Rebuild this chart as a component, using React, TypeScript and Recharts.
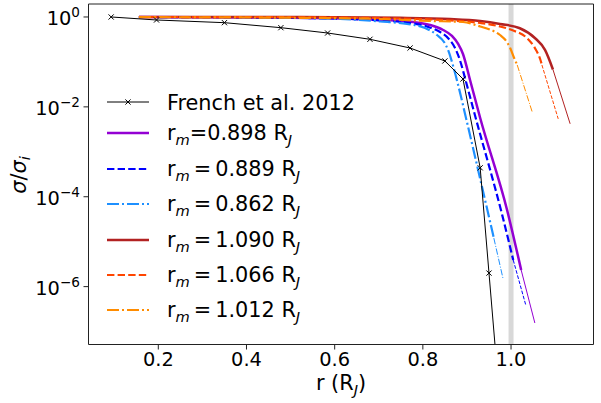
import React from 'react';
import { LineChart, Line, XAxis, YAxis, ReferenceLine, CartesianGrid } from 'recharts';

const W = 601;
const H = 403;
const FONT = 'DejaVu Sans';

// ---- data (r in R_J, sigma / sigma_i) ----
const frenchR = [0.093, 0.196, 0.35, 0.478, 0.584, 0.68, 0.771, 0.85, 0.891, 0.93, 0.95, 0.97];
const frenchS = [1.0, 0.857, 0.747, 0.578, 0.44, 0.319, 0.204, 0.105, 0.0418, 4.4e-4, 2.0e-6, 9e-9];

const m898R = [0.156, 0.408, 0.612, 0.703, 0.778, 0.816, 0.846, 0.866, 0.88, 0.891, 0.907, 0.93, 0.991, 1.023];
const m898S = [1.0, 0.975, 0.926, 0.857, 0.774, 0.664, 0.514, 0.378, 0.251, 0.15, 0.0396, 5.66e-3, 5.08e-5, 2.34e-6];
const m898TailR = [1.023, 1.054];
const m898TailS = [2.34e-6, 1.55e-7];

const m889R = [0.156, 0.408, 0.612, 0.703, 0.771, 0.809, 0.839, 0.859, 0.873, 0.884, 0.898, 0.918, 0.98, 1.005];
const m889S = [1.0, 0.975, 0.917, 0.836, 0.735, 0.615, 0.464, 0.324, 0.204, 0.11, 0.0356, 6.6e-3, 3.9e-5, 3.9e-6];
const m889TailR = [1.005, 1.034];
const m889TailS = [3.9e-6, 3.7e-7];

const m862R = [0.156, 0.408, 0.612, 0.703, 0.764, 0.805, 0.832, 0.848, 0.859, 0.868, 0.88, 0.9, 0.941, 0.961];
const m862S = [1.0, 0.975, 0.903, 0.794, 0.699, 0.569, 0.397, 0.278, 0.166, 0.0855, 0.0307, 4.6e-3, 8.5e-5, 1.2e-5];
const m862TailR = [0.961, 0.982];
const m862TailS = [1.2e-5, 1.48e-6];

const m1090R = [0.156, 0.521, 0.748, 0.862, 0.93, 0.975, 1.02, 1.054, 1.077, 1.095];
const m1090S = [1.0, 0.998, 0.96, 0.903, 0.815, 0.699, 0.561, 0.341, 0.185, 0.068];
const m1090TailR = [1.095, 1.134];
const m1090TailS = [0.068, 4.2e-3];

const m1066R = [0.156, 0.521, 0.748, 0.862, 0.93, 0.975, 1.005, 1.036, 1.054, 1.066, 1.07];
const m1066S = [1.0, 0.985, 0.926, 0.836, 0.735, 0.615, 0.5, 0.341, 0.204, 0.116, 0.0855];
const m1066TailR = [1.07, 1.107];
const m1066TailS = [0.0855, 5.4e-3];

const m1012R = [0.156, 0.521, 0.703, 0.816, 0.891, 0.93, 0.952, 0.975, 0.989, 0.998, 1.007, 1.014];
const m1012S = [0.99, 0.96, 0.903, 0.815, 0.774, 0.615, 0.527, 0.397, 0.292, 0.204, 0.122, 0.0855];
const m1012TailR = [1.014, 1.048];
const m1012TailS = [0.0855, 7.7e-3];

const xTicks = [0.2, 0.4, 0.6, 0.8, 1.0];
const yTicks = [1e-6, 1e-4, 1e-2, 1];
const xDomain = [0.0417, 1.187];
const yDomain = [5.15e-8, 1.945];
const bandAt = [1.0];

const zip = (xs: number[], ys: number[]) => xs.map((x, i) => ({ x, y: ys[i] }));

type Style = { color: string; dash?: string; thinDash?: string; width: number };
const SOLID = undefined;
const models: { id: string; main: { x: number; y: number }[]; tail: { x: number; y: number }[]; style: Style; label: string; spaced: boolean }[] = [
  { id: 'm898', main: zip(m898R, m898S), tail: zip(m898TailR, m898TailS), style: { color: '#9400D3', dash: SOLID, thinDash: SOLID, width: 2.5 }, label: '0.898', spaced: false },
  { id: 'm889', main: zip(m889R, m889S), tail: zip(m889TailR, m889TailS), style: { color: '#0000FF', dash: '7.4 3.2', thinDash: '3.7 1.6', width: 2.2 }, label: '0.889', spaced: true },
  { id: 'm862', main: zip(m862R, m862S), tail: zip(m862TailR, m862TailS), style: { color: '#1E90FF', dash: '12 3 2 3', thinDash: '6.4 1.6 1 1.6', width: 2.2 }, label: '0.862', spaced: true },
  { id: 'm1090', main: zip(m1090R, m1090S), tail: zip(m1090TailR, m1090TailS), style: { color: '#B22222', dash: SOLID, thinDash: SOLID, width: 2.5 }, label: '1.090', spaced: true },
  { id: 'm1066', main: zip(m1066R, m1066S), tail: zip(m1066TailR, m1066TailS), style: { color: '#FF4500', dash: '7.4 3.2', thinDash: '3.7 1.6', width: 2.2 }, label: '1.066', spaced: true },
  { id: 'm1012', main: zip(m1012R, m1012S), tail: zip(m1012TailR, m1012TailS), style: { color: '#FF8C00', dash: '12 3 2 3', thinDash: '6.4 1.6 1 1.6', width: 2.2 }, label: '1.012', spaced: true },
];
const french = zip(frenchR, frenchS);

const XMark = (props: any) => {
  const { cx, cy } = props;
  if (cx == null || cy == null || isNaN(cx) || isNaN(cy)) return null;
  const s = 2.6;
  return (
    <g key={`xm-${cx}-${cy}`}>
      <line x1={cx - s} y1={cy - s} x2={cx + s} y2={cy + s} stroke="#000" strokeWidth={1} />
      <line x1={cx - s} y1={cy + s} x2={cx + s} y2={cy - s} stroke="#000" strokeWidth={1} />
    </g>
  );
};

const XTick = (props: any) => {
  const { x, y, payload } = props;
  return (
    <text x={x} y={y + 16.5} textAnchor="middle" fontSize={19.4} fontFamily={FONT} fill="#000">
      {Number(payload.value).toFixed(1)}
    </text>
  );
};

const YTick = (props: any) => {
  const { x, y, payload } = props;
  const e = Math.round(Math.log10(payload.value));
  const sup = e === 0 ? '0' : '\u2212' + Math.abs(e);
  return (
    <text x={x} y={y + 8} textAnchor="end" fontSize={19.4} fontFamily={FONT} fill="#000">
      10
      <tspan dy={-8} fontSize={13.6}>{sup}</tspan>
    </text>
  );
};

const legendRows = [102, 133, 169, 204, 240, 275, 310];

const Overlay = () => {
  const hx1 = 107;
  const hx2 = 149;
  const tx = 167;
  return (
    <svg width={W} height={H} style={{ position: 'absolute', left: 0, top: 0, pointerEvents: 'none' }}>
      {/* axis labels */}
      <text x={341} y={389.5} textAnchor="middle" fontSize={20.8} fontFamily={FONT} fill="#000">
        r (R<tspan fontSize={14.6} fontStyle="italic" dy={5}>J</tspan><tspan dy={-5}>)</tspan>
      </text>
      <text x={22} y={179} transform="rotate(-90 22 175)" textAnchor="middle" fontSize={20.8} fontFamily={FONT} fill="#000">
        <tspan fontStyle="italic">σ</tspan>/<tspan fontStyle="italic">σ</tspan>
        <tspan fontStyle="italic" fontSize={14.6} dy={4}>i</tspan>
      </text>
      {/* legend */}
      <g>
        <line x1={hx1} y1={legendRows[0]} x2={hx2} y2={legendRows[0]} stroke="#000" strokeWidth={1} />
        <XMark cx={(hx1 + hx2) / 2} cy={legendRows[0]} />
        <text x={tx} y={legendRows[0] + 8} fontSize={20.8} fontFamily={FONT} fill="#000">French et al. 2012</text>
      </g>
      {models.map((m, i) => {
        const cy = legendRows[i + 1];
        return (
          <g key={m.id}>
            <line x1={hx1} y1={cy} x2={hx2} y2={cy} stroke={m.style.color} strokeWidth={m.style.width} strokeDasharray={m.style.dash} />
            <text x={tx} y={cy + 7.3} fontSize={20.8} fontFamily={FONT} fill="#000">
              r<tspan fontStyle="italic" fontSize={14.6} dy={5}>m</tspan>
              <tspan dy={-5} dx={m.spaced ? 4 : 0}>=</tspan>
              <tspan dx={m.spaced ? 4 : 0}>{m.label} R</tspan>
              <tspan fontStyle="italic" fontSize={14.6} dy={5}>J</tspan>
            </text>
          </g>
        );
      })}
    </svg>
  );
};

export default function App() {
  return (
    <div style={{ position: 'absolute', left: 0, top: 0, width: W, height: H, background: '#fff' }}>
      <LineChart width={W} height={H} margin={{ top: 4, right: 7.5, bottom: 0, left: 0 }}>
        <XAxis
          xAxisId="b"
          type="number"
          dataKey="x"
          domain={xDomain}
          ticks={xTicks}
          allowDataOverflow
          height={58.5}
          tickSize={5}
          tickMargin={0}
          tick={<XTick />}
          stroke="#222"
          axisLine={{ stroke: '#222', strokeWidth: 1 }}
          tickLine={{ stroke: '#222', strokeWidth: 1 }}
        />
        <YAxis
          yAxisId="l"
          type="number"
          scale="log"
          domain={yDomain}
          ticks={yTicks}
          allowDataOverflow
          width={88.5}
          tickSize={5}
          tickMargin={3.5}
          tick={<YTick />}
          axisLine={{ stroke: '#222', strokeWidth: 1 }}
          tickLine={{ stroke: '#222', strokeWidth: 1 }}
        />
        <CartesianGrid
          xAxisId="b"
          yAxisId="l"
          horizontal={false}
          vertical
          verticalValues={bandAt}
          stroke="#d8d8d8"
          strokeWidth={5}
          strokeDasharray=""
        />
        {models.map((m) => (
          <Line
            key={m.id + '-tail'}
            xAxisId="b"
            yAxisId="l"
            data={m.tail}
            dataKey="y"
            name={m.id + '-tail'}
            type="linear"
            stroke={m.style.color}
            strokeWidth={1}
            strokeDasharray={m.style.thinDash}
            dot={false}
            activeDot={false}
            isAnimationActive={false}
          />
        ))}
        {models.map((m) => (
          <Line
            key={m.id}
            xAxisId="b"
            yAxisId="l"
            data={m.main}
            dataKey="y"
            name={m.id}
            type="monotone"
            stroke={m.style.color}
            strokeWidth={m.style.width}
            strokeDasharray={m.style.dash}
            dot={false}
            activeDot={false}
            isAnimationActive={false}
          />
        ))}
        <Line
          xAxisId="b"
          yAxisId="l"
          data={french}
          dataKey="y"
          name="French et al. 2012"
          type="linear"
          stroke="#000"
          strokeWidth={1}
          dot={<XMark />}
          activeDot={false}
          isAnimationActive={false}
        />
        <ReferenceLine xAxisId="b" yAxisId="l" x={xDomain[1]} stroke="#222" strokeWidth={1} ifOverflow="visible" />
        <ReferenceLine xAxisId="b" yAxisId="l" y={yDomain[1]} stroke="#222" strokeWidth={1} ifOverflow="visible" />
      </LineChart>
      <Overlay />
    </div>
  );
}
